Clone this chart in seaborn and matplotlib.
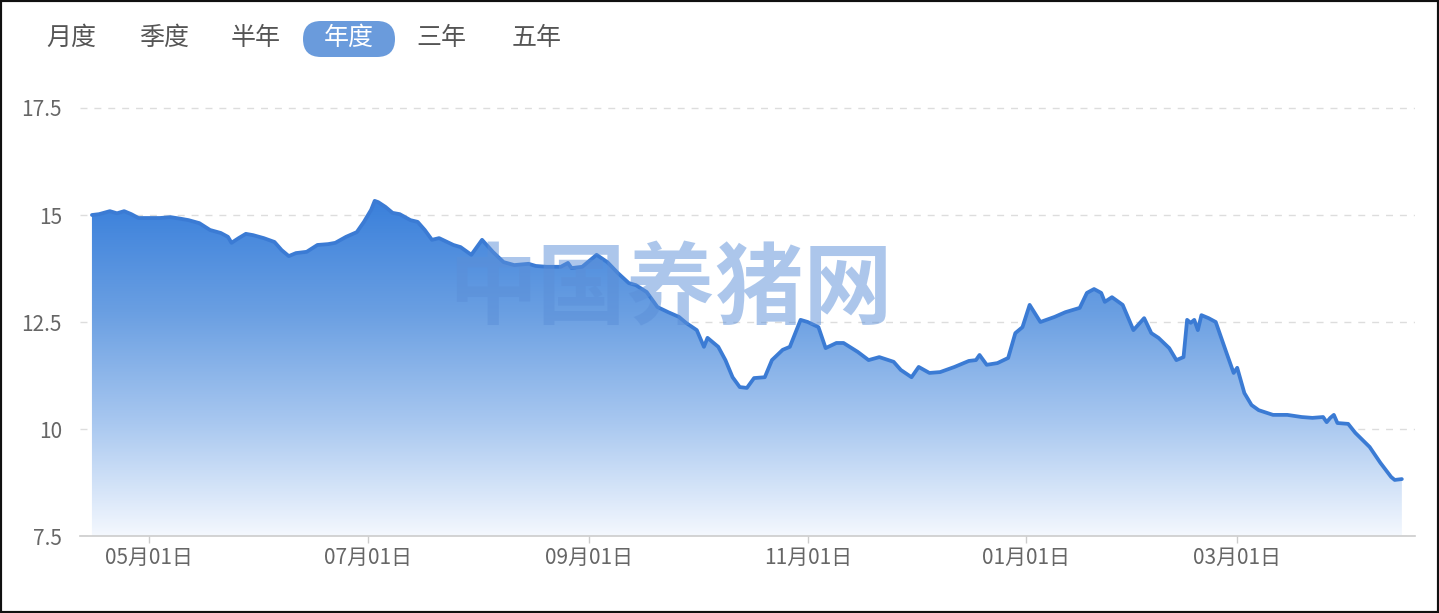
import numpy as np
import pandas as pd
import matplotlib
matplotlib.use("Agg")
import matplotlib.pyplot as plt
import matplotlib.dates as mdates
from matplotlib.colors import LinearSegmentedColormap
from matplotlib.patches import FancyBboxPatch, Rectangle
from matplotlib.transforms import IdentityTransform
import seaborn as sns

# 日期与价格
dates = [
    "2025-04-15", "2025-04-17", "2025-04-20", "2025-04-22", "2025-04-24", "2025-04-26", "2025-04-28",
    "2025-05-01", "2025-05-04", "2025-05-07", "2025-05-10", "2025-05-12", "2025-05-15", "2025-05-18",
    "2025-05-21", "2025-05-23", "2025-05-24", "2025-05-26", "2025-05-28", "2025-05-30",
    "2025-06-02", "2025-06-05", "2025-06-07", "2025-06-09", "2025-06-11", "2025-06-14", "2025-06-17",
    "2025-06-20", "2025-06-22", "2025-06-25", "2025-06-28", "2025-06-30",
    "2025-07-02", "2025-07-03", "2025-07-04", "2025-07-06", "2025-07-08", "2025-07-10", "2025-07-13",
    "2025-07-15", "2025-07-17", "2025-07-19", "2025-07-21", "2025-07-25", "2025-07-27", "2025-07-30",
    "2025-08-02", "2025-08-05", "2025-08-08", "2025-08-11", "2025-08-15", "2025-08-17", "2025-08-20",
    "2025-08-24", "2025-08-26", "2025-08-27", "2025-08-30",
    "2025-09-03", "2025-09-06", "2025-09-09", "2025-09-12", "2025-09-14", "2025-09-17", "2025-09-20",
    "2025-09-23", "2025-09-26", "2025-09-28",
    "2025-10-01", "2025-10-03", "2025-10-04", "2025-10-07", "2025-10-09", "2025-10-11", "2025-10-13",
    "2025-10-15", "2025-10-17", "2025-10-20", "2025-10-22", "2025-10-25", "2025-10-27", "2025-10-30",
    "2025-11-01", "2025-11-04", "2025-11-06", "2025-11-09", "2025-11-11", "2025-11-15", "2025-11-18",
    "2025-11-21", "2025-11-25", "2025-11-27", "2025-11-30",
    "2025-12-02", "2025-12-05", "2025-12-08", "2025-12-12", "2025-12-16", "2025-12-18", "2025-12-19",
    "2025-12-21", "2025-12-24", "2025-12-27", "2025-12-29", "2025-12-31",
    "2026-01-02", "2026-01-05", "2026-01-09", "2026-01-12", "2026-01-16", "2026-01-18", "2026-01-20",
    "2026-01-22", "2026-01-23", "2026-01-25", "2026-01-28", "2026-01-31",
    "2026-02-03", "2026-02-05", "2026-02-07", "2026-02-10", "2026-02-12", "2026-02-14", "2026-02-15",
    "2026-02-16", "2026-02-17", "2026-02-18", "2026-02-19", "2026-02-21", "2026-02-23", "2026-02-26",
    "2026-02-28",
    "2026-03-01", "2026-03-03", "2026-03-05", "2026-03-07", "2026-03-11", "2026-03-15", "2026-03-19",
    "2026-03-22", "2026-03-25", "2026-03-26", "2026-03-27", "2026-03-28", "2026-03-29",
    "2026-04-01", "2026-04-03", "2026-04-07", "2026-04-10", "2026-04-13", "2026-04-14", "2026-04-16",
]
prices = [
    15.00, 15.02, 15.09, 15.04, 15.09, 15.02, 14.93,
    14.93, 14.93, 14.95, 14.91, 14.88, 14.81, 14.65, 14.58, 14.49, 14.35, 14.46, 14.56, 14.53,
    14.46, 14.37, 14.18, 14.04, 14.11, 14.14, 14.30, 14.32, 14.35, 14.49, 14.60, 14.84,
    15.12, 15.33, 15.30, 15.19, 15.05, 15.02, 14.88, 14.84, 14.65, 14.42, 14.46, 14.30, 14.25, 14.07,
    14.42, 14.14, 13.90, 13.83, 13.86, 13.81, 13.79, 13.79, 13.88, 13.76, 13.79,
    14.07, 13.90, 13.64, 13.41, 13.36, 13.20, 12.85, 12.73, 12.62, 12.48,
    12.31, 11.92, 12.13, 11.92, 11.61, 11.21, 10.98, 10.96, 11.19, 11.21, 11.61, 11.85, 11.92, 12.55,
    12.50, 12.38, 11.89, 12.01, 12.01, 11.80, 11.61, 11.68, 11.57, 11.38, 11.21,
    11.45, 11.31, 11.33, 11.45, 11.59, 11.61, 11.73, 11.50, 11.54, 11.66, 12.24, 12.38,
    12.90, 12.50, 12.62, 12.73, 12.83, 13.18, 13.27, 13.18, 12.97, 13.08, 12.90, 12.31,
    12.59, 12.24, 12.13, 11.89, 11.61, 11.68, 12.55, 12.48, 12.55, 12.31, 12.66, 12.59, 12.50, 11.78,
    11.31,
    11.43, 10.84, 10.56, 10.44, 10.33, 10.33, 10.28, 10.26, 10.28, 10.16, 10.26, 10.33, 10.14,
    10.12, 9.91, 9.58, 9.21, 8.88, 8.81, 8.83,
]

tick_dates = ["2025-05-01", "2025-07-01", "2025-09-01", "2025-11-01", "2026-01-01", "2026-03-01"]
tick_labels = ["05月01日", "07月01日", "09月01日", "11月01日", "01月01日", "03月01日"]
y_ticks = [7.5, 10, 12.5, 15, 17.5]
y_labels = ["7.5", "10", "12.5", "15", "17.5"]
buttons = ["月度", "季度", "半年", "年度", "三年", "五年"]
active_button = "年度"

sns.set_theme(style="white")
plt.rcParams['font.family'] = ['Noto Sans CJK SC', 'DejaVu Sans']

df = pd.DataFrame({'日期': pd.to_datetime(dates), '价格': prices})

fig = plt.figure(figsize=(14.39, 6.13), dpi=100)
ax = fig.add_axes([0.0556, 0.1256, 0.9277, 0.7052])

# 折线
sns.lineplot(data=df, x='日期', y='价格', color='#3b7bd4', linewidth=2.7, ax=ax, zorder=4)

# 渐变填充
x0 = mdates.date2num(pd.Timestamp('2025-04-11 16:00'))
x1 = mdates.date2num(pd.Timestamp('2026-04-19 16:00'))
poly = ax.fill_between(df['日期'], df['价格'], 7.5, color='none', lw=0)
cmap = LinearSegmentedColormap.from_list('fade', ['#f4f8fe', '#a9c8f0', '#6a9fe2', '#3a80db'])
grad = np.linspace(0, 1, 256).reshape(-1, 1)
img = ax.imshow(grad, extent=[x0, x1, 7.5, df['价格'].max()], origin='lower',
                aspect='auto', cmap=cmap, zorder=2)
img.set_clip_path(poly.get_paths()[0], ax.transData)

ax.set_xlim(x0, x1)
ax.set_ylim(7.5, 17.6)

ax.set_yticks(y_ticks)
ax.set_yticklabels(y_labels)
ax.set_xticks(pd.to_datetime(tick_dates))
ax.set_xticklabels(tick_labels)
ax.tick_params(axis='y', length=0, pad=13, labelsize=15, labelcolor='#666666')
ax.tick_params(axis='x', length=5, width=1, color='#cccccc', pad=3, labelsize=15, labelcolor='#666666',
               direction='out', bottom=True)
ax.set_xlabel('')
ax.set_ylabel('')

ax.yaxis.grid(True, linestyle=(0, (5, 5)), color='#dddddd', linewidth=1, zorder=1)
ax.xaxis.grid(False)
for side in ['top', 'right', 'left']:
    ax.spines[side].set_visible(False)
ax.spines['bottom'].set_color('#cccccc')
ax.spines['bottom'].set_linewidth(1.2)
ax.set_facecolor('none')

# 水印
fig.text(0.4656, 0.524, '中国养猪网', fontsize=64, fontweight='bold', color='#5b8fd8',
         alpha=0.5, ha='center', va='center', zorder=10)

# 顶部时间按钮
btn_x = [71, 164, 256, 349, 441, 537]
for name, bx in zip(buttons, btn_x):
    if name == active_button:
        pill = FancyBboxPatch((bx - 46, 613 - 57), 92, 36,
                              boxstyle="round,pad=0,rounding_size=18",
                              facecolor='#6a9bdc', edgecolor='none',
                              transform=IdentityTransform())
        fig.patches.append(pill)
        fig.text(bx / 1439, 1 - 38 / 613, name, fontsize=18, color='white', ha='center', va='center')
    else:
        fig.text(bx / 1439, 1 - 38 / 613, name, fontsize=18, color='#555555', ha='center', va='center')

# 外框
fig.patches.append(Rectangle((0, 0), 1, 1, transform=fig.transFigure, fill=False,
                             edgecolor='#111111', linewidth=3))

fig.savefig('out.png', dpi=100)
